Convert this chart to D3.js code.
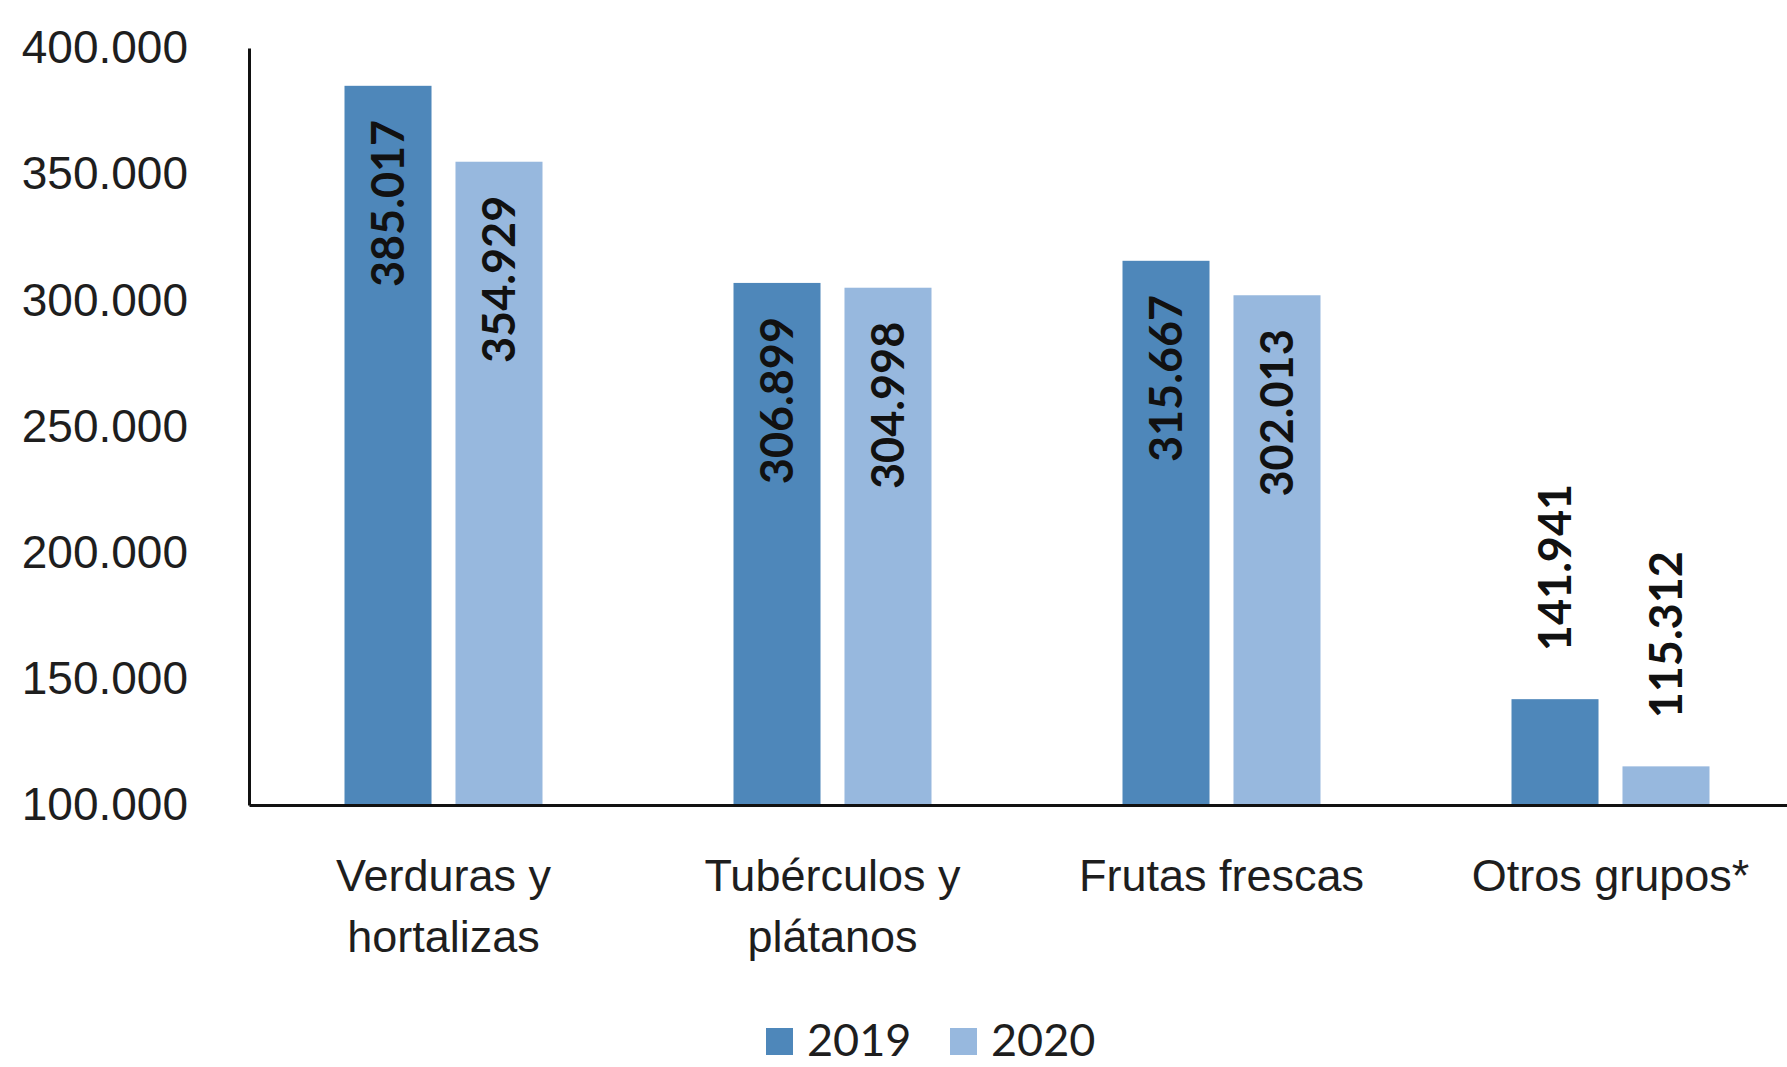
<!DOCTYPE html>
<html>
<head>
<meta charset="utf-8">
<script src="https://cdn.jsdelivr.net/npm/d3@7"></script>
<style>
  body { margin: 0; background: #fff; }
  svg { display: block; font-family: Lato, "Open Sans", sans-serif; }
  .tick text { fill: #1e1e1e; }
</style>
</head>
<body>
<svg id="chart" width="1787" height="1067"></svg>
<script>
// data
var categories = ["Verduras y hortalizas", "Tubérculos y plátanos", "Frutas frescas", "Otros grupos*"];
var years = ["2019", "2020"];
var values2019 = [385017, 306899, 315667, 141941];
var values2020 = [354929, 304998, 302013, 115312];
var yTicks = [100000, 150000, 200000, 250000, 300000, 350000, 400000];

var colors = { "2019": "#4e87ba", "2020": "#97b8de" };

var svg = d3.select("#chart");

// plot box (right edge runs past the picture, as in the source)
var plotLeft = 249, plotRight = 1805, plotTop = 48, plotBottom = 805;

// thousands with a dot, the way the source prints them
var es = d3.formatLocale({ decimal: ",", thousands: ".", grouping: [3], currency: ["", ""] });
var fmt = es.format(",d");

var x = d3.scaleBand().domain(categories).range([plotLeft, plotRight]).paddingInner(0).paddingOuter(0);
var groupW = 198;
var xs = d3.scaleBand().domain(years).range([0, groupW]).paddingInner(0.216);
var y = d3.scaleLinear().domain([100000, 400000]).range([plotBottom, plotTop]);

var rows = categories.map(function (c, i) {
	return { cat: c, vals: [{ year: "2019", v: values2019[i] }, { year: "2020", v: values2020[i] }] };
});

// bars
var groups = svg.append("g").selectAll("g")
	.data(rows).enter().append("g")
	.attr("transform", function (d) { return "translate(" + (x(d.cat) + (x.bandwidth() - groupW) / 2) + ",0)"; });

groups.selectAll("rect")
	.data(function (d) { return d.vals; }).enter().append("rect")
	.attr("x", function (d) { return xs(d.year); })
	.attr("y", function (d) { return y(d.v); })
	.attr("width", xs.bandwidth())
	.attr("height", function (d) { return plotBottom - y(d.v); })
	.attr("fill", function (d) { return colors[d.year]; });

// value labels, rotated; inside the top of the bar if it fits, else above it
var labelLen = 168;
function fitsInside(d) { return (plotBottom - y(d.v)) > labelLen + 60; }

groups.selectAll("text.val")
	.data(function (d) { return d.vals; }).enter().append("text")
	.attr("class", "val")
	.attr("transform", function (d) {
		var cx = xs(d.year) + xs.bandwidth() / 2;
		var ty = fitsInside(d) ? y(d.v) + 34 : y(d.v) - 48;
		return "translate(" + cx + "," + ty + ") rotate(-90)";
	})
	.attr("text-anchor", function (d) { return fitsInside(d) ? "end" : "start"; })
	.attr("dy", "0.36em")
	.style("font-size", "45px")
	.style("font-weight", "bold")
	.style("fill", "#111")
	.text(function (d) { return fmt(d.v); });

// y axis
var yAxis = svg.append("g")
	.attr("transform", "translate(" + plotLeft + ",0)")
	.call(d3.axisLeft(y).tickValues(yTicks).tickFormat(fmt).tickSize(0).tickPadding(61));
yAxis.select(".domain").attr("stroke", "#111").attr("stroke-width", 3);
yAxis.selectAll(".tick text").style("font-size", "46px");

// x axis, category names wrapped on two lines
var xAxis = svg.append("g")
	.attr("transform", "translate(0," + plotBottom + ")")
	.call(d3.axisBottom(x).tickSize(0).tickSizeOuter(0).tickPadding(0));
xAxis.select(".domain").attr("stroke", "#111").attr("stroke-width", 3);
xAxis.selectAll(".tick text")
	.style("font-size", "45px")
	.attr("dy", null)
	.attr("y", 86)
	.each(function (d) {
		var t = d3.select(this);
		var words = d.split(" ");
		t.text(null);
		var line = [];
		var ts = t.append("tspan").attr("x", 0).attr("y", 86);
		var lineNo = 0;
		words.forEach(function (w) {
			line.push(w);
			ts.text(line.join(" "));
			if (ts.node().getComputedTextLength() > 330 && line.length > 1) {
				line.pop();
				ts.text(line.join(" "));
				line = [w];
				lineNo++;
				ts = t.append("tspan").attr("x", 0).attr("y", 86 + lineNo * 61).text(w);
			}
		});
	});

// legend
var legend = svg.append("g").attr("transform", "translate(766,1027)");
var legX = [0, 184];
years.forEach(function (yr, i) {
	legend.append("rect")
		.attr("x", legX[i]).attr("y", 1)
		.attr("width", 27).attr("height", 27)
		.attr("fill", colors[yr]);
	legend.append("text")
		.attr("x", legX[i] + 41).attr("y", 29)
		.style("font-size", "45px")
		.style("fill", "#1e1e1e")
		.text(yr);
});
</script>
</body>
</html>
